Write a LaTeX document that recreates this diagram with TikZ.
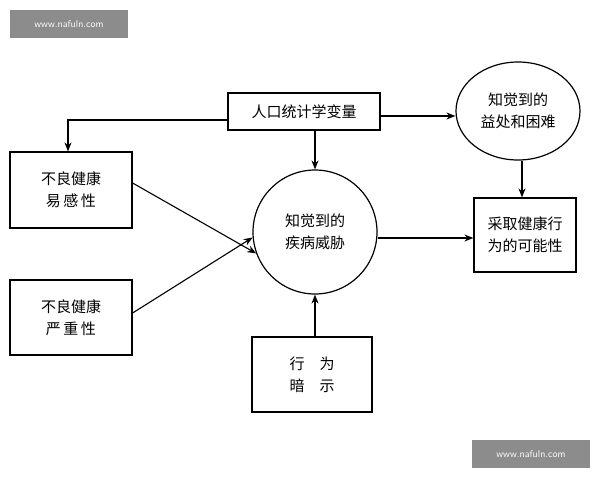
\documentclass[tikz,border=0pt]{standalone}
\usepackage{fontspec}
\newfontfamily\cjk{Noto Sans CJK SC}
\usetikzlibrary{arrows.meta,shapes.geometric}
\begin{document}
\begin{tikzpicture}[x=1pt,y=-1pt,
  box/.style={draw,line width=1.2pt,font=\cjk\fontsize{15}{22}\selectfont,align=center,inner sep=0pt},
  arr/.style={-{Stealth[length=9pt,width=7pt]},line width=1.1pt},
  wm/.style={fill=black!45,text=white,font=\fontsize{10}{12}\selectfont\sffamily,minimum width=118pt,minimum height=28pt,inner sep=0pt}]
\useasboundingbox (0,0) rectangle (600,480);
\node[wm] (w1) at (69,24) {www.nafuln.com};
\node[wm] (w2) at (531,454) {www.nafuln.com};
\node[box,minimum width=152pt,minimum height=37pt] (demo) at (304,111.5) {人口统计学变量};
\node[box,ellipse,minimum width=124pt,minimum height=98pt] (ben) at (518,111) {知觉到的\\益处和困难};
\node[box,minimum width=122pt,minimum height=76pt] (sus) at (71,190) {不良健康\\易\,感\,性};
\node[box,circle,minimum size=124pt] (thr) at (315,232) {知觉到的\\疾病威胁};
\node[box,minimum width=102pt,minimum height=74pt] (act) at (525,235) {采取健康行\\为的可能性};
\node[box,minimum width=122pt,minimum height=75pt] (sev) at (71,317.5) {不良健康\\严\,重\,性};
\node[box,minimum width=120pt,minimum height=75pt] (cue) at (312,374.5) {行\quad 为\\暗\quad 示};
\draw[arr] (demo.west |- 0,120) -| (sus.north -| 68,0);
\draw[arr] (demo.east |- 0,116) -- (ben.west |- 0,116);
\draw[arr] (demo.south -| thr.north) -- (thr.north);
\draw[arr] (sus.east |- 0,183) -- (thr.200);
\draw[arr] (sev.east |- 0,313) -- (thr.185);
\draw[arr] (thr.east |- 0,238) -- (act.west |- 0,238);
\draw[arr] (ben.south -| 522,0) -- (act.north -| 522,0);
\draw[arr] (cue.north -| thr.south) -- (thr.south);
\end{tikzpicture}
\end{document}
